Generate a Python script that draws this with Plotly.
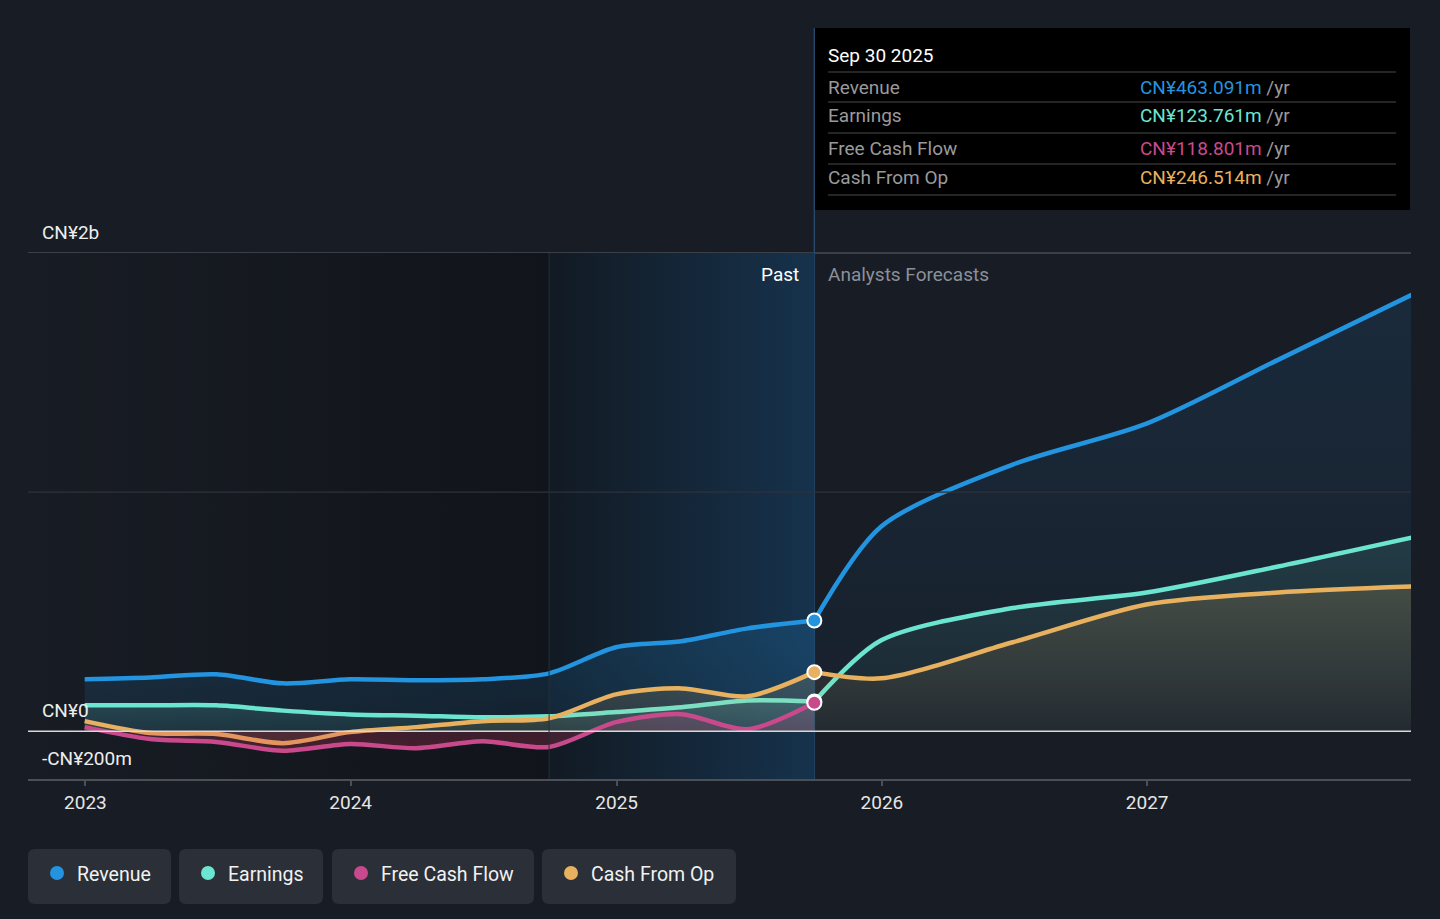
import plotly.graph_objects as go

# past (trailing twelve months) values, CN¥ millions
past_dates = ["2022-12-31", "2023-03-31", "2023-06-30", "2023-09-30", "2023-12-31", "2024-03-31",
              "2024-06-30", "2024-09-30", "2024-12-31", "2025-03-31", "2025-06-30", "2025-09-30"]
revenue_past = [217, 225, 238, 200, 217, 213, 217, 242, 351, 376, 430, 463]
earnings_past = [108, 108, 108, 86, 70, 65, 58, 62, 80, 100, 128, 124]
fcf_past = [17, -33, -45, -82, -54, -71, -42, -66, 38, 71, 8, 119]
cfo_past = [42, -8, -12, -50, -4, 17, 42, 54, 154, 179, 146, 247]

# analyst forecasts, CN¥ millions
fc_dates = ["2025-09-30", "2025-12-31", "2026-06-30", "2026-12-31", "2027-06-30", "2027-12-31"]
revenue_fc = [463, 856, 1115, 1286, 1553, 1825]
earnings_fc = [124, 380, 515, 580, 689, 810]
cfo_fc = [247, 221, 372, 530, 580, 605]

year_ticks = ["2023-01-01", "2024-01-01", "2025-01-01", "2026-01-01", "2027-01-01"]
year_labels = ["2023", "2024", "2025", "2026", "2027"]

BG = "#181c25"
FONT = "Roboto"
W, H = 1440, 919
L, R, T, B = 28, 1411, 253, 779


def X(p):
    return (p - L) / (R - L)


def Y(p):
    return (B - p) / (B - T)


def rounded(x0, y0, x1, y1, r=6):
    return (f"M {X(x0 + r)},{Y(y0)} L {X(x1 - r)},{Y(y0)} Q {X(x1)},{Y(y0)} {X(x1)},{Y(y0 + r)} "
            f"L {X(x1)},{Y(y1 - r)} Q {X(x1)},{Y(y1)} {X(x1 - r)},{Y(y1)} "
            f"L {X(x0 + r)},{Y(y1)} Q {X(x0)},{Y(y1)} {X(x0)},{Y(y1 - r)} "
            f"L {X(x0)},{Y(y0 + r)} Q {X(x0)},{Y(y0)} {X(x0 + r)},{Y(y0)} Z")


def rgba(rgb, a):
    return f"rgba({rgb[0]},{rgb[1]},{rgb[2]},{a})"


BLUE, TEAL, PINK, ORANGE = (35, 148, 223), (108, 229, 208), (201, 74, 140), (232, 177, 95)

# name, values, colour, fill alpha at bottom / top of the gradient
past_series = [
    ("Revenue", revenue_past, BLUE, 0.10, 0.18),
    ("Earnings", earnings_past, TEAL, 0.08, 0.16),
    ("Cash From Op", cfo_past, ORANGE, 0.08, 0.18),
]
fc_series = [
    ("Revenue", revenue_fc, BLUE, 0.03, 0.12),
    ("Earnings", earnings_fc, TEAL, 0.03, 0.12),
    ("Cash From Op", cfo_fc, ORANGE, 0.04, 0.18),
]

x_start, x_end = "2022-10-14", "2027-12-30"
y_lo, y_hi = -200, 2000

fig = go.Figure()

# darker past area and highlighted last year
fig.add_trace(go.Scatter(
    x=[x_start, "2024-09-30", "2024-09-30", x_start, x_start], y=[y_lo, y_lo, y_hi, y_hi, y_lo],
    fill="toself", mode="none", hoverinfo="skip", showlegend=False,
    fillgradient=dict(type="horizontal", colorscale=[[0, "rgb(24,28,36)"], [1, "rgb(17,20,26)"]]),
))
fig.add_trace(go.Scatter(
    x=["2024-09-30", "2025-09-30", "2025-09-30", "2024-09-30", "2024-09-30"], y=[y_lo, y_lo, y_hi, y_hi, y_lo],
    fill="toself", mode="none", hoverinfo="skip", showlegend=False,
    fillgradient=dict(type="horizontal", colorscale=[[0, "rgb(18,26,35)"], [1, "rgb(22,50,76)"]]),
))

for dates, group in [(past_dates, past_series), (fc_dates, fc_series)]:
    for name, vals, rgb, a0, a1 in group:
        fig.add_trace(go.Scatter(
            x=dates, y=vals, mode="lines", name=name, hoverinfo="skip", showlegend=False,
            line=dict(color=rgba(rgb, 1), width=4.5, shape="spline", smoothing=0.8),
            fill="tozeroy",
            fillgradient=dict(type="vertical", colorscale=[[0, rgba(rgb, a0)], [1, rgba(rgb, a1)]]),
        ))

# free cash flow has no forecast; its fill is mostly below zero
fig.add_trace(go.Scatter(
    x=past_dates, y=fcf_past, mode="lines", name="Free Cash Flow", hoverinfo="skip", showlegend=False,
    line=dict(color=rgba(PINK, 1), width=4.5, shape="spline", smoothing=0.8),
    fill="tozeroy",
    fillgradient=dict(type="vertical", colorscale=[[0, "rgba(215,55,85,0.26)"], [1, "rgba(201,74,140,0.16)"]]),
))

# markers at the last reported date
for rgb, val in [(BLUE, revenue_past[-1]), (TEAL, earnings_past[-1]), (ORANGE, cfo_past[-1]), (PINK, fcf_past[-1])]:
    fig.add_trace(go.Scatter(
        x=[past_dates[-1]], y=[val], mode="markers", hoverinfo="skip", showlegend=False,
        marker=dict(size=14, color=rgba(rgb, 1), line=dict(color="white", width=2)),
    ))

shapes = [
    dict(type="line", xref="paper", yref="paper", x0=0, x1=1, y0=1, y1=1, line=dict(color="#464b55", width=1.5), layer="below"),
    dict(type="line", xref="paper", yref="y", x0=0, x1=1, y0=1000, y1=1000, line=dict(color="#2c323d", width=1.2), layer="above"),
    dict(type="line", xref="paper", yref="y", x0=0, x1=1, y0=0, y1=0, line=dict(color="#d8d8d8", width=1.5), layer="above"),
    dict(type="line", xref="x", yref="paper", x0="2024-09-30", x1="2024-09-30", y0=0, y1=1, line=dict(color="#22303e", width=1), layer="above"),
    dict(type="line", xref="x", yref="paper", x0="2025-09-30", x1="2025-09-30", y0=0, y1=Y(28), line=dict(color="#26486a", width=1.5), layer="below"),
    dict(type="rect", xref="paper", yref="paper", x0=X(815), x1=X(1410), y0=Y(210), y1=Y(28), fillcolor="#000000", line=dict(width=0)),
]
for yy in [72, 102, 133, 164, 195]:
    shapes.append(dict(type="line", xref="paper", yref="paper", x0=X(828), x1=X(1396), y0=Y(yy), y1=Y(yy),
                       line=dict(color="#4a4a4a", width=1.2)))

annotations = [
    dict(text="CN¥2b", x=X(40), y=Y(232)),
    dict(text="CN¥0", x=X(40), y=Y(710)),
    dict(text="-CN¥200m", x=X(40), y=Y(758)),
]
for a in annotations:
    a.update(xref="paper", yref="paper", xanchor="left", yanchor="middle", showarrow=False,
             font=dict(family=FONT, size=19, color="#eeeeee"))

annotations += [
    dict(text="Past", x=X(801), y=Y(274), xanchor="right", font=dict(family=FONT, size=19, color="#ffffff")),
    dict(text="Analysts Forecasts", x=X(826), y=Y(274), xanchor="left", font=dict(family=FONT, size=19, color="#8b9099")),
    dict(text="Sep 30 2025", x=X(826), y=Y(55), xanchor="left", font=dict(family=FONT, size=19, color="#ffffff")),
]

tooltip_rows = [
    ("Revenue", "CN¥463.091m", "#2394df", 87),
    ("Earnings", "CN¥123.761m", "#6ce5d0", 116),
    ("Free Cash Flow", "CN¥118.801m", "#c94a8c", 148),
    ("Cash From Op", "CN¥246.514m", "#e8b15f", 178),
]
for label, value, color, yy in tooltip_rows:
    annotations.append(dict(text=label, x=X(826), y=Y(yy), xanchor="left",
                            font=dict(family=FONT, size=19, color="#9a9a9a")))
    annotations.append(dict(text=f"<span style='color:{color}'>{value}</span> /yr", x=X(1138), y=Y(yy), xanchor="left",
                            font=dict(family=FONT, size=19, color="#9a9a9a")))

# legend chips
legend_items = [
    ("Revenue", "#2394df", 28, 171),
    ("Earnings", "#6ce5d0", 179, 323),
    ("Free Cash Flow", "#c94a8c", 332, 534),
    ("Cash From Op", "#e8b15f", 542, 736),
]
for label, color, x0, x1 in legend_items:
    shapes.append(dict(type="path", xref="paper", yref="paper", path=rounded(x0, 849, x1, 904, 7),
                       fillcolor="#2a2f38", line=dict(width=0)))
    shapes.append(dict(type="circle", xref="paper", yref="paper", x0=X(x0 + 22), x1=X(x0 + 36),
                       y0=Y(880), y1=Y(866), fillcolor=color, line=dict(width=0)))
    annotations.append(dict(text=label, x=X(x0 + 47), y=Y(874), xanchor="left",
                            font=dict(family=FONT, size=19.5, color="#f2f2f2")))

for a in annotations[3:]:
    a.setdefault("xref", "paper")
    a.setdefault("yref", "paper")
    a.setdefault("yanchor", "middle")
    a.setdefault("showarrow", False)

fig.update_layout(
    width=W, height=H,
    margin=dict(l=L, r=W - R, t=T, b=H - B),
    paper_bgcolor=BG, plot_bgcolor=BG,
    showlegend=False,
    shapes=shapes,
    annotations=annotations,
    xaxis=dict(type="date", range=[x_start, x_end], tickvals=year_ticks, ticktext=year_labels,
               showgrid=False, zeroline=False, showline=True, linecolor="#4a4f58", linewidth=2,
               ticks="outside", ticklen=5, tickcolor="#4a4f58", tickwidth=2,
               tickfont=dict(family=FONT, size=19, color="#e6e6e6")),
    yaxis=dict(range=[y_lo, y_hi], showgrid=False, zeroline=False, showticklabels=False, fixedrange=True),
)

fig.write_html("out.html", config={"displayModeBar": False},
               post_script="document.body.style.margin='0';document.body.style.overflow='hidden';")
